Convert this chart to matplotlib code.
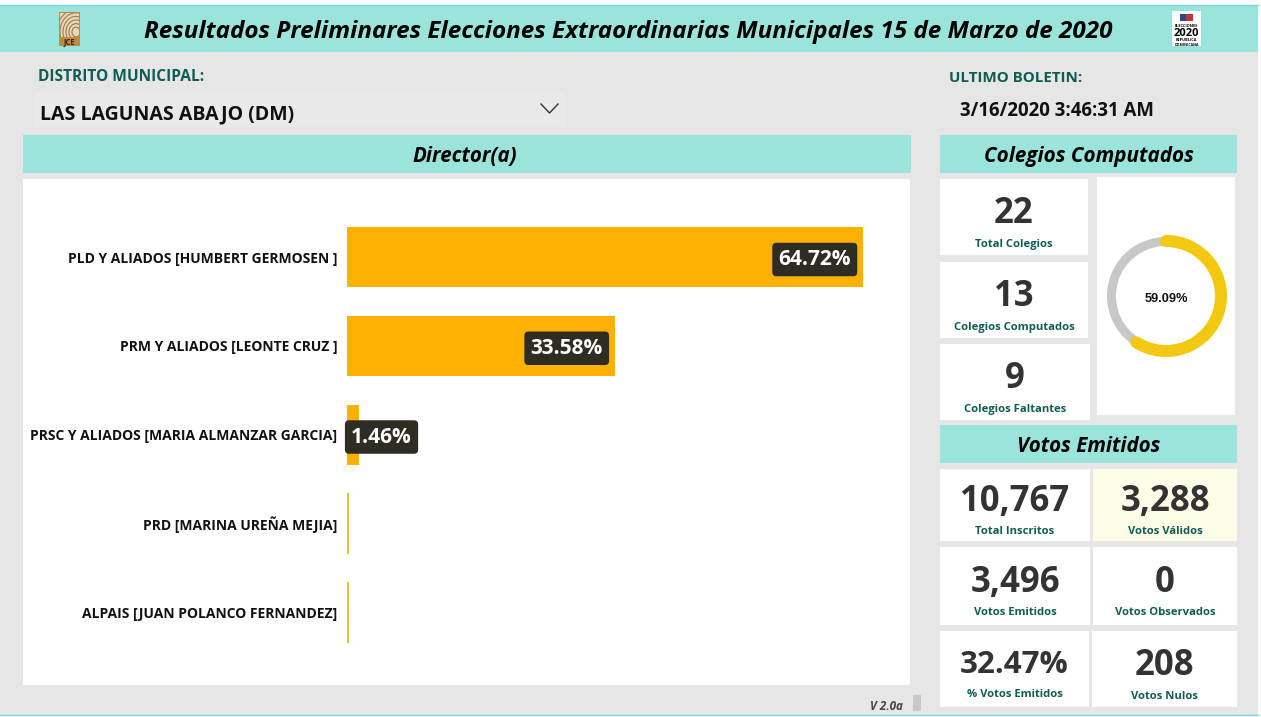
import matplotlib
matplotlib.use("Agg")
from matplotlib import pyplot
from matplotlib.patches import Rectangle, Arc, Ellipse

W = 1261
H = 717

TEAL = "#9ae4dc"
GREY = "#e6e6e6"
DARK_TEAL = "#0f5c55"
NUM_COLOR = "#333333"

pyplot.rcParams["font.family"] = ["Open Sans", "DejaVu Sans"]

# chart values
candidates = ["PLD Y ALIADOS [HUMBERT GERMOSEN ]",
              "PRM Y ALIADOS [LEONTE CRUZ ]",
              "PRSC Y ALIADOS [MARIA ALMANZAR GARCIA]",
              "PRD [MARINA UREÑA MEJIA]",
              "ALPAIS [JUAN POLANCO FERNANDEZ]"]
percents = [64.72, 33.58, 1.46, 0.12, 0.12]
bar_labels = ["64.72%", "33.58%", "1.46%", "", ""]

donut_pct = 59.09

colegio_values = ["22", "13", "9"]
colegio_names = ["Total Colegios", "Colegios Computados", "Colegios Faltantes"]
voto_values = ["10,767", "3,288", "3,496", "0", "32.47%", "208"]
voto_names = ["Total Inscritos", "Votos Válidos", "Votos Emitidos",
              "Votos Observados", "% Votos Emitidos", "Votos Nulos"]

# x0, y0, x1, y1, number baseline, label baseline, number size
colegio_boxes = [(940, 179, 1088, 255, 223, 247, 25),
                 (940, 262, 1088, 338, 306, 330, 25),
                 (940, 344, 1090, 420, 388, 412, 25)]
voto_boxes = [(940, 469, 1090, 541, 511, 534, 25),
              (1093, 469, 1237, 541, 511, 534, 25),
              (940, 547, 1090, 625, 592, 615, 25),
              (1093, 547, 1237, 625, 592, 615, 25),
              (940, 631, 1089, 707, 673, 697, 22.5),
              (1092, 631, 1237, 707, 675, 699, 25)]

fig = pyplot.figure(figsize=(W / 100, H / 100), dpi=100)
bg = fig.add_axes([0, 0, 1, 1])
bg.set_xlim(0, W)
bg.set_ylim(H, 0)
bg.axis("off")


def box(x0, y0, x1, y1, color):
    r = Rectangle((x0, y0), x1 - x0, y1 - y0, facecolor=color, edgecolor="none")
    bg.add_patch(r)
    return r


def label(x, y, s, size, color="black", weight="bold", style="normal", ha="center"):
    bg.text(x, y, s, fontsize=size, color=color, fontweight=weight, fontstyle=style, ha=ha, va="baseline")


"""
Background and headers
"""
box(0, 5, 1258, 715, GREY)
box(0, 5, 1258, 52, TEAL)
bg.plot([0, 1258], [5, 5], color="#7fd4ea", lw=1)
bg.plot([0, 1258], [715, 715], color="#7fd4ea", lw=1)

label(628.5, 38, "Resultados Preliminares Elecciones Extraordinarias Municipales 15 de Marzo de 2020",
      17.5, style="italic")

# JCE logo
box(59, 12, 80, 46, "#bd8a45")
clip = box(60, 13, 79, 37, "#e4d8c0")
for r in [4, 7, 10, 13, 16, 19]:
    e = Ellipse((76, 32), r * 2, r * 2.4, fill=False, edgecolor="#a87a3a", lw=0.8)
    bg.add_patch(e)
    e.set_clip_path(clip)
label(69.5, 44.5, "JCE", 5.5, color="#3a2a10")

# elecciones logo
box(1172, 11, 1201, 46, "white")
box(1180, 14, 1186, 21, "#2b4a8c")
box(1186, 14, 1193, 21, "#c8343c")
label(1186.5, 27, "ELECCIONES", 2.8)
label(1186.5, 36, "2020", 8)
label(1186.5, 41, "REPUBLICA", 2.8)
label(1186.5, 45.5, "DOMINICANA", 2.5)

label(38, 81, "DISTRITO MUNICIPAL:", 11.2, color=DARK_TEAL, ha="left")
box(35, 93, 565, 127, "#e9e9e9")
label(40, 119, "LAS LAGUNAS ABAJO (DM)", 14, color="#111111", ha="left")
bg.plot([541, 549.5, 558], [104, 113, 104], color="#333333", lw=1)

label(949, 82, "ULTIMO BOLETIN:", 10.9, color=DARK_TEAL, ha="left")
label(960, 116, "3/16/2020 3:46:31 AM", 13.4, color="#111111", ha="left")

box(23, 135, 911, 173, TEAL)
label(465, 162, "Director(a)", 14.8, style="italic")
box(940, 135, 1237, 173, TEAL)
label(1089, 162, "Colegios Computados", 14.9, style="italic")
box(940, 425, 1237, 463, TEAL)
label(1089, 452, "Votos Emitidos", 14.8, style="italic")

"""
Cards
"""
box(23, 179, 910, 685, "white")
box(1097, 177, 1235, 415, "white")

for b, v, n in zip(colegio_boxes, colegio_values, colegio_names):
    box(b[0], b[1], b[2], b[3], "white")
    cx = (b[0] + b[2]) / 2
    label(cx, b[4], v, b[6], color=NUM_COLOR)
    label(cx, b[5], n, 8.1, color=DARK_TEAL)

for i, (b, v, n) in enumerate(zip(voto_boxes, voto_values, voto_names)):
    box(b[0], b[1], b[2], b[3], "#fdfde8" if i == 1 else "white")
    cx = (b[0] + b[2]) / 2
    label(cx, b[4], v, b[6], color=NUM_COLOR)
    label(cx, b[5], n, 8.1, color=DARK_TEAL)

label(903, 710, "V 2.0a", 8.4, color="#444444", style="italic", ha="right")
box(913, 695, 921, 711, "#c8c8c8")

"""
Donut
"""
# y axis is flipped here, so angles run clockwise from the top
bg.add_patch(Arc((1166, 296), 109, 109, theta1=0, theta2=360, color="#c8c8c8", lw=9 * 0.72))
bg.add_patch(Arc((1166, 296), 110, 110, theta1=-90, theta2=-90 + donut_pct * 3.6,
                 color="#f2c811", lw=12 * 0.72, capstyle="round"))
bg.text(1166, 302, f"{donut_pct:.2f}%", fontsize=9.2, family="Liberation Sans", fontweight="bold",
        color="#111111", ha="center")

"""
Bars
"""
ax = fig.add_axes([347 / W, 1 - 656.4 / H, (910 - 347) / W, 443.75 / H])
ax.patch.set_alpha(0)
ax.set_xlim(0, 563 / 7.97)
bars = ax.barh(range(len(candidates)), percents, height=0.676, color="#ffb000")
bars[3].set_color("#e8c040")
bars[4].set_color("#e8c040")
ax.set_ylim(4.5, -0.5)
ax.set_yticks(range(len(candidates)))
ax.set_yticklabels(candidates, fontsize=10, fontweight="bold", color="#111111")
ax.tick_params(axis="y", length=0, pad=7)
ax.set_xticks([])
for s in ax.spines.values():
    s.set_visible(False)

badge = dict(boxstyle="round,pad=0.3,rounding_size=0.2", facecolor="#2f2c24", edgecolor="none")
for i, (p, t) in enumerate(zip(percents, bar_labels)):
    if not t:
        continue
    if p > 5:
        ax.annotate(t, xy=(p, i), xytext=(-8.5, 0), textcoords="offset points", ha="right", va="center_baseline",
                    fontsize=15, fontweight="bold", color="white", bbox=badge, clip_on=False)
    else:
        ax.annotate(t, xy=(0, i), xytext=(3, 0), textcoords="offset points", ha="left", va="center_baseline",
                    fontsize=15, fontweight="bold", color="white", bbox=badge, clip_on=False)

fig.savefig("out.png", dpi=100)
